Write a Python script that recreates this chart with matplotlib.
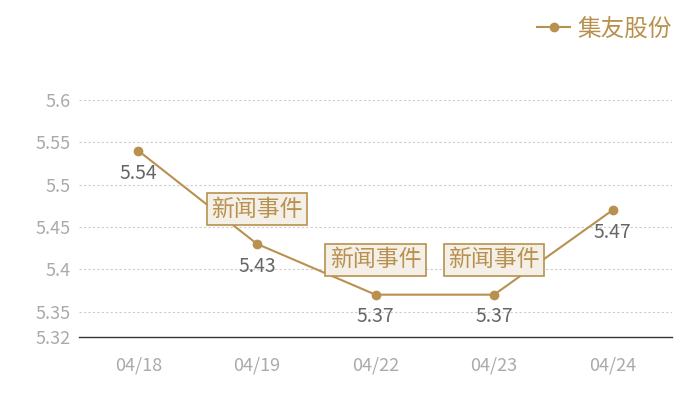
import matplotlib
matplotlib.use("Agg")
import matplotlib.pyplot as plt

plt.rcParams['font.family'] = ['Noto Sans CJK SC', 'DejaVu Sans']

dates = ["04/18", "04/19", "04/22", "04/23", "04/24"]
prices = [5.54, 5.43, 5.37, 5.37, 5.47]
event_idx = [1, 2, 3]
event_text = "新闻事件"
yticks = [5.32, 5.35, 5.4, 5.45, 5.5, 5.55, 5.6]
ytick_labels = ["5.32", "5.35", "5.4", "5.45", "5.5", "5.55", "5.6"]
series_name = "集友股份"

gold = "#B8914F"

fig = plt.figure(figsize=(7, 4), dpi=100)
ax = fig.add_axes([0.113, 0.1575, 0.847, 0.5925])

x = list(range(len(dates)))
ax.plot(x, prices, color=gold, lw=1.5, marker="o", ms=6, label=series_name, zorder=3)

for i, v in zip(x, prices):
    ax.annotate(f"{v:.2f}", (i, v), xytext=(0, -16), textcoords="offset points",
                ha="center", va="center", fontsize=14, color="#666666")

for i in event_idx:
    ax.annotate(event_text, (i, prices[i]), xytext=(0, 25), textcoords="offset points",
                ha="center", va="center", fontsize=16.5, color=gold, zorder=5,
                bbox=dict(boxstyle="square,pad=0.2", fc="#F4EFE7", ec=gold, lw=1.2))

ax.set_xlim(-0.5, len(dates) - 0.5)
ax.set_ylim(5.32, 5.6)
ax.set_xticks(x)
ax.set_xticklabels(dates)
ax.set_yticks(yticks)
ax.set_yticklabels(ytick_labels)
ax.tick_params(axis="both", length=0, labelsize=13, colors="#AAAAAA")
ax.tick_params(axis="x", pad=14)
ax.tick_params(axis="y", pad=6)

for t in yticks[1:]:
    ax.axhline(t, color="#CCCCCC", lw=0.8, ls=(0, (2, 2)), zorder=1)

for s in ["top", "right", "left"]:
    ax.spines[s].set_visible(False)
ax.spines["bottom"].set_color("#333333")
ax.spines["bottom"].set_linewidth(1)

leg = fig.legend(loc="upper right", bbox_to_anchor=(0.99, 1.01), frameon=False,
                 fontsize=17, handlelength=1.4, handletextpad=0.3)
for t in leg.get_texts():
    t.set_color(gold)

fig.savefig("out.png", dpi=100)
